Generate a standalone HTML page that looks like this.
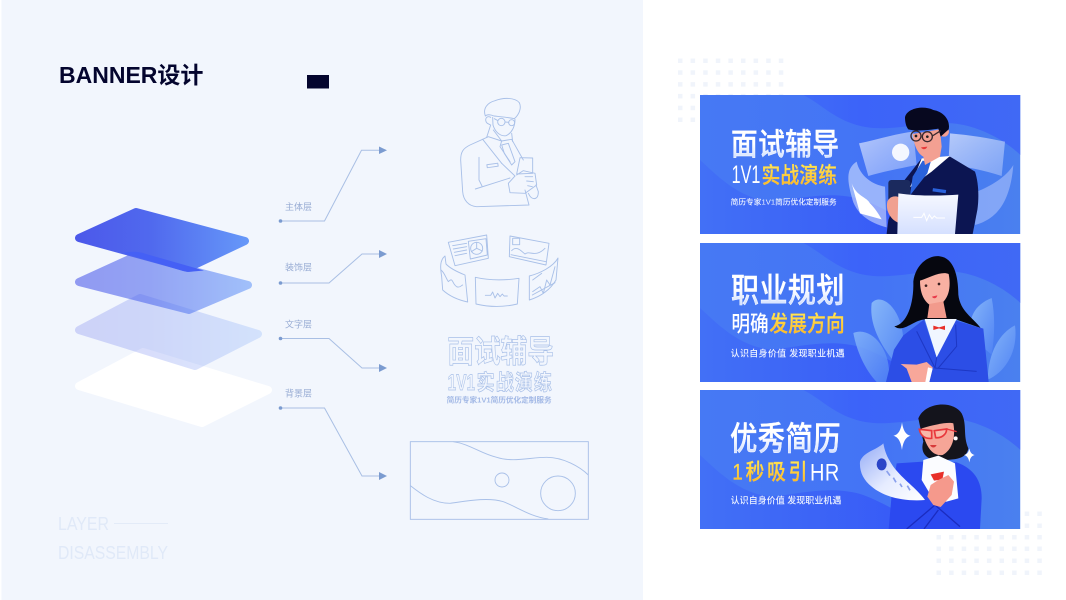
<!DOCTYPE html>
<html><head><meta charset="utf-8"><style>
html,body{margin:0;padding:0;background:#fff;width:1066px;height:600px;overflow:hidden}
svg{display:block}
text{font-family:"Liberation Sans","Noto Sans CJK SC",sans-serif}
</style></head><body>
<svg xmlns="http://www.w3.org/2000/svg" width="1066" height="600" viewBox="0 0 1066 600">
<defs>
<linearGradient id="l1" gradientUnits="userSpaceOnUse" x1="75" x2="265" y1="0" y2="0"><stop offset="0" stop-color="#4c58ea"/><stop offset=".4" stop-color="#5069ee"/><stop offset="1" stop-color="#6aa0fa"/></linearGradient>
<linearGradient id="bgA" x1="0" x2="1" y1="0" y2="0"><stop offset="0" stop-color="#4679f4"/><stop offset=".55" stop-color="#4474f5"/><stop offset="1" stop-color="#4a80ef"/></linearGradient>
<linearGradient id="top" x1="0" x2="1" y1="0" y2="0"><stop offset="0" stop-color="#4579f3"/><stop offset=".5" stop-color="#3c63f9"/><stop offset="1" stop-color="#4069f5"/></linearGradient>
<linearGradient id="bot" x1="0" x2="1" y1="0" y2="0"><stop offset="0" stop-color="#4270f6"/><stop offset="1" stop-color="#3556f7"/></linearGradient>
<linearGradient id="tw" x1="0" x2="0" y1="0" y2="1"><stop offset=".45" stop-color="#fff"/><stop offset="1" stop-color="#c4d6ff"/></linearGradient>
<linearGradient id="ty" x1="0" x2="0" y1="0" y2="1"><stop offset="0" stop-color="#ffe95a"/><stop offset="1" stop-color="#ffae1c"/></linearGradient>
<linearGradient id="pan" x1="0" x2="1" y1="0" y2="1"><stop offset="0" stop-color="#fff" stop-opacity=".6"/><stop offset="1" stop-color="#cfdcff" stop-opacity=".4"/></linearGradient>
<linearGradient id="front" x1="0" x2="0" y1="0" y2="1"><stop offset="0" stop-color="#f6f8ff"/><stop offset="1" stop-color="#d5e0ff"/></linearGradient>
<linearGradient id="paper" x1="0" x2="1" y1="0" y2="1"><stop offset="0" stop-color="#93aaf6"/><stop offset=".55" stop-color="#e6ecff"/><stop offset="1" stop-color="#fff"/></linearGradient>
<linearGradient id="leaf" x1="0" x2="1" y1="0" y2="1"><stop offset="0" stop-color="#86b6f9"/><stop offset="1" stop-color="#4f82f4"/></linearGradient>
<clipPath id="bc"><rect x="30" y="15" width="961" height="417"/></clipPath>
<g id="bannerbg">
<rect x="30" y="15" width="961" height="417" fill="url(#bgA)"/>
<path d="M30,15 L340,15 C390,40 430,85 500,105 C585,130 675,99 765,99 C855,99 945,150 991,195 L991,15Z" fill="url(#top)"/>
<path d="M30,210 C80,255 150,330 250,335 C330,325 430,300 520,330 C590,355 670,415 770,432 L30,432Z" fill="url(#bot)"/>
</g>
</defs>

<rect x="1.500" y="0" width="641.500" height="600" fill="#f2f6fd"/>

<!-- title -->
<text x="59" y="83" font-size="23" font-weight="700" fill="#04052e">BANNER设计</text>
<rect x="307" y="75" width="22" height="13.500" fill="#04052e"/>

<!-- layers -->
<g stroke-linejoin="round" stroke-width="8">
<path d="M79,386 L143,352 L268,390 L202,423Z" fill="#fff" stroke="#fff"/>
<g opacity=".22"><path d="M79,330 L140,298 L258,334 L195,366Z" fill="url(#l1)" stroke="url(#l1)"/></g>
<g opacity=".58"><path d="M79,282 L136,256 L248,285 L189,310Z" fill="url(#l1)" stroke="url(#l1)"/></g>
<path d="M79,238 L136,212 L245,241 L188,268Z" fill="url(#l1)" stroke="url(#l1)"/>
</g>
<path d="M123,253 Q136,250 146,254 L204,270.500 L193,271.500 Q188,272.500 183,271Z" fill="#4560f5"/>

<!-- labels and connectors -->
<g font-size="9" fill="#98acd4">
<text x="285" y="210">主体层</text>
<text x="285" y="270.500">装饰层</text>
<text x="285" y="327.500">文字层</text>
<text x="285" y="396.500">背景层</text>
</g>
<g fill="none" stroke="#a9bfe4" stroke-width="1">
<path d="M280,221 H324.500 L361.500,150.300 H380"/>
<path d="M280,283 H329 L362,254 H380"/>
<path d="M280,338.500 H329 L362,368 H380"/>
<path d="M280,408 H324.500 L362,476 H380"/>
</g>
<g fill="#7b9bd0">
<path d="M379,146.500 L387,150.300 L379,154Z"/>
<path d="M379,250 L387,254 L379,258Z"/>
<path d="M379,364 L387,368 L379,372Z"/>
<path d="M379,472 L387,476 L379,480Z"/>
<circle cx="280.500" cy="221" r="1.800"/><circle cx="280.500" cy="283" r="1.800"/><circle cx="280.500" cy="338.500" r="1.800"/><circle cx="280.500" cy="408" r="1.800"/>
</g>

<!-- english caption -->
<g fill="#e0e9f8" font-size="18">
<text x="58" y="530" textLength="51" lengthAdjust="spacingAndGlyphs">LAYER</text>
<text x="58" y="559" textLength="110" lengthAdjust="spacingAndGlyphs">DISASSEMBLY</text>
</g>
<path d="M114,523.500 H168" stroke="#e3ebf8" stroke-width="1"/>

<!-- line art figures -->
<g transform="translate(400,80) scale(.33333)" fill="none" stroke="#a9c0e8" stroke-width="2.800" stroke-linejoin="round" stroke-linecap="round">
<path d="M256,108 C248,85 262,68 285,62 C310,52 345,52 358,68 C366,85 356,105 343,116 C325,112 300,110 282,108 C270,103 262,102 256,108Z"/>
<path d="M272,112 C258,104 252,122 262,130 L270,134"/>
<path d="M278,112 L279,135 C285,155 300,170 318,167 C335,160 345,140 345,118"/>
<circle cx="304" cy="126" r="11"/><circle cx="335" cy="128" r="9"/><path d="M283,116 L294,122 M315,126 L326,127"/>
<path d="M272,135 L260,172 M280,150 L305,183 M335,160 L338,185"/>
<path d="M248,178 L210,195 C190,205 182,215 182,240 L188,335 C190,360 205,378 230,380 L387,375 L375,330"/>
<path d="M248,178 L265,170 L305,183 L300,200 L330,245 M248,178 L305,250"/>
<path d="M305,183 L335,178 L370,240"/>
<path d="M305,195 L325,190 L345,245 L335,255 L313,220Z"/>
<path d="M237,232 L237,300 L246,318 M226,327 L330,294"/>
<rect x="261" y="252" width="33" height="9" transform="rotate(-8 277 256)"/>
<path d="M360,233 L398,234 L398,280 L350,282Z"/>
<path d="M305,250 L345,288 L325,310 L330,338 L375,340 L410,315 L405,280 L370,272 L350,285"/>
<path d="M385,340 C395,362 415,362 415,335 L408,315"/>
<path d="M375,290 L398,290 M380,303 L400,305 M383,317 L397,320"/>
<!-- panels -->
<path d="M145,487 L260,465 L265,535 L165,557Z"/>
<path d="M205,484 L258,476 L262,525 L211,537Z"/>
<circle cx="230" cy="505" r="18"/><path d="M230,487 L230,505 L214,515 M230,505 L247,513"/>
<path d="M158,497 L200,490 M160,507 L200,500 M163,517 L200,510 M165,527 L200,520"/>
<path d="M330,468 L447,490 L438,555 L328,530Z"/>
<rect x="338" y="475" width="21" height="19"/>
<path d="M335,512 C350,495 365,515 375,522 C390,510 405,535 435,505 M333,524 L438,545"/>
<path d="M135,528 C120,540 120,560 125,590 L128,630 C150,650 175,660 203,666 L195,585 C170,575 150,565 138,552Z"/>
<path d="M123,570 C135,580 135,590 145,605 C160,590 155,610 170,620 C180,625 185,615 188,615"/>
<path d="M226,592 C270,602 310,602 357,595 L352,672 C310,682 270,682 228,672Z"/>
<path d="M256,646 H272 L278,636 L285,654 L293,640 L300,650 L307,642 L312,648 H322"/>
<path d="M388,588 C420,580 460,560 474,534 L468,600 C450,630 420,650 388,660Z"/>
<path d="M398,600 L425,580 M398,635 L420,620 L430,640 L440,600 L450,615 L465,560 M397,645 L465,608"/>
</g>

<!-- line art text -->
<g transform="translate(400,320) scale(.33333)">
<g fill="#f2f6fd" stroke="#a9c0e8" stroke-width="1.800" font-weight="700">
<text transform="translate(142,127) scale(1,1.170)" font-size="80" textLength="320" lengthAdjust="spacing">面试辅导</text>
<text transform="translate(143,210) scale(1,1.200)" font-size="56" textLength="82" lengthAdjust="spacingAndGlyphs">1V1</text>
<text transform="translate(230,210) scale(1,1.200)" font-size="54" textLength="226" lengthAdjust="spacing">实战演练</text>
</g>
<text x="140" y="248" font-size="23" font-weight="700" fill="#a3b9e6" textLength="315" lengthAdjust="spacing">简历专家1V1简历优化定制服务</text>
</g>

<!-- background outline -->
<g transform="translate(400,320) scale(.33333)" fill="none" stroke="#a9c0e8" stroke-width="2.800">
<rect x="31" y="365" width="534" height="233"/>
<path d="M160,365 C210,372 240,400 290,412 C340,428 390,412 440,412 C490,412 540,440 565,465"/>
<path d="M31,497 C60,520 100,550 150,550 C190,545 260,530 310,545 C350,560 390,590 445,597"/>
<circle cx="306" cy="480" r="21"/><circle cx="474" cy="520" r="52"/>
</g>

<!-- dot grids -->
<g fill="#f0f4fb">
<g id="d1">
<rect x="678" y="58.500" width="4.500" height="4.500"/><rect x="690.600" y="58.500" width="4.500" height="4.500"/><rect x="703.200" y="58.500" width="4.500" height="4.500"/><rect x="715.800" y="58.500" width="4.500" height="4.500"/><rect x="728.400" y="58.500" width="4.500" height="4.500"/><rect x="741" y="58.500" width="4.500" height="4.500"/><rect x="753.600" y="58.500" width="4.500" height="4.500"/><rect x="766.200" y="58.500" width="4.500" height="4.500"/><rect x="778.800" y="58.500" width="4.500" height="4.500"/>
</g>
<use href="#d1" y="11.800"/><use href="#d1" y="23.600"/><use href="#d1" y="35.400"/><use href="#d1" y="47.200"/><use href="#d1" y="59"/>
<use href="#d1" x="258.500" y="453"/><use href="#d1" x="258.500" y="465"/><use href="#d1" x="258.500" y="476.500"/><use href="#d1" x="258.500" y="488"/><use href="#d1" x="258.500" y="500"/><use href="#d1" x="258.500" y="512"/>
</g>

<!-- Banner 1 -->
<g transform="translate(690,90) scale(.33333)">
<g clip-path="url(#bc)">
<use href="#bannerbg"/>
<path d="M507,160 C560,150 620,130 670,125 L680,225 C630,235 580,245 535,258Z" fill="url(#pan)"/>
<path d="M780,130 C840,135 900,145 945,155 L935,258 C880,240 830,230 775,225Z" fill="url(#pan)"/>
<path d="M500,215 C470,235 470,265 485,320 C495,370 540,400 590,412 L585,290 C550,285 510,260 500,215Z" fill="#dfe8ff" fill-opacity=".55"/>
<path d="M485,280 C500,320 530,320 540,340 C555,355 565,370 575,388 L510,370Z" fill="#fff"/>
<path d="M970,225 C950,260 900,290 860,305 L855,405 C910,390 960,350 970,225Z" fill="#c9d8ff" fill-opacity=".45"/>
<circle cx="632" cy="187" r="26" fill="#fff" fill-opacity=".9"/>
<path d="M590,430 L595,390 L640,275 L695,205 L780,200 L855,245 C865,275 868,320 862,360 L848,432 L590,432Z" fill="#0c1552"/>
<path d="M695,205 L780,198 L725,245 L660,292Z" fill="#fff"/>
<path d="M698,212 L722,216 L712,250 L660,316 L668,260Z" fill="#2a62dc"/>
<path d="M668,132 L750,118 L755,170 L750,200 L705,225 L700,200 C682,190 672,165 668,132Z" fill="#f3a092"/>
<circle cx="762" cy="125" r="15" fill="#f3a092"/>
<path d="M645,82 C650,55 700,45 730,60 C760,65 782,90 776,118 L752,140 L745,116 C720,120 680,125 655,118 C648,110 645,95 645,82Z" fill="#07081f"/>
<circle cx="678" cy="138" r="15" fill="none" stroke="#3a2a30" stroke-width="4"/><circle cx="712" cy="140" r="15" fill="none" stroke="#3a2a30" stroke-width="4"/>
<path d="M727,138 L752,122" stroke="#3a2a30" stroke-width="4"/>
<circle cx="678" cy="138" r="4" fill="#222"/><circle cx="712" cy="140" r="4" fill="#222"/>
<path d="M693,172 L712,170 C708,180 698,180 693,172Z" fill="#e83a3a"/>
<rect x="728" y="297" width="40" height="10" fill="#2a62dc" transform="rotate(8 748 302)"/>
<rect x="595" y="270" width="66" height="80" rx="9" fill="#1b2a5e"/>
<path d="M592,335 C600,315 625,315 640,330 L630,400 C610,395 585,370 592,335Z" fill="#f0a090"/>
<path d="M625,310 C680,318 750,318 805,314 L795,432 L622,432Z" fill="url(#front)"/>
<path d="M670,382 H695 L702,370 L710,392 L718,374 L726,386 L733,378 L740,384 H765" fill="none" stroke="#fff" stroke-width="3"/>
</g>
<g font-weight="500">
<text transform="translate(123,195) scale(1,1.150)" font-size="80" fill="url(#tw)" stroke="#fff" stroke-width="1" textLength="324" lengthAdjust="spacing">面试辅导</text>
<text transform="translate(125,279) scale(1,1.150)" font-size="66" fill="#fff" textLength="86" lengthAdjust="spacingAndGlyphs">1V1</text>
<text transform="translate(215,279) scale(1,1.200)" font-size="56" fill="url(#ty)" stroke="#ffd23a" stroke-width=".8" textLength="226" lengthAdjust="spacing">实战演练</text>
</g>
<text x="122" y="344" font-size="23" font-weight="500" fill="#eef3ff" textLength="318" lengthAdjust="spacing">简历专家1V1简历优化定制服务</text>
</g>

<!-- Banner 2 -->
<g transform="translate(690,238) scale(.33333)">
<g clip-path="url(#bc)">
<use href="#bannerbg"/>
<path d="M545,195 C570,165 625,200 638,285 L650,415 C590,350 535,275 545,195Z" fill="url(#leaf)"/>
<path d="M490,285 C545,262 610,340 595,432 L560,432 C525,395 500,340 490,285Z" fill="url(#leaf)" fill-opacity=".85"/>
<path d="M905,180 C855,200 830,240 845,300 L905,350 C915,290 915,230 905,180Z" fill="url(#leaf)"/>
<path d="M975,262 C930,285 895,340 893,425 C950,400 985,335 975,262Z" fill="url(#leaf)"/>
<path d="M670,130 C678,75 720,50 750,55 C790,60 805,110 805,170 C810,220 850,240 872,270 L800,245 L700,245 C665,250 640,285 613,265 C650,258 672,200 670,130Z" fill="#06070f"/>
<path d="M690,128 C720,118 755,98 776,108 C786,160 770,195 735,207 C705,200 690,170 690,128Z" fill="#f8b0a2"/>
<path d="M718,198 L760,190 L770,240 L712,240Z" fill="#f29a8c"/>
<circle cx="708" cy="143" r="4" fill="#3a2020"/><circle cx="747" cy="138" r="4" fill="#3a2020"/>
<path d="M726,176 L742,172 C740,182 730,184 726,176Z" fill="#e83a4a"/>
<path d="M640,292 L702,245 L740,358 L788,245 L880,272 L896,432 L588,432 L612,335Z" fill="#2c4ee6"/>
<path d="M704,243 L800,243 L740,358Z" fill="#f0f6ff"/>
<path d="M730,263 L747,268 L765,263 L765,276 L747,271 L730,276Z" fill="#e8302a"/>
<path d="M740,358 L735,390 L860,400 M680,280 L705,330 L735,390 M797,260 L800,325 L745,390" fill="none" stroke="#1d37c4" stroke-width="3"/>
<path d="M632,378 L680,380 L710,372 L728,388 L718,432 L665,432 L650,392Z" fill="#f8a79a"/>
<path d="M714,388 L728,392 L718,432 L706,432Z" fill="#fff"/>
</g>
<g font-weight="500">
<text transform="translate(123,192) scale(1,1.200)" font-size="84" fill="url(#tw)" stroke="#fff" stroke-width="1" textLength="340" lengthAdjust="spacing">职业规划</text>
<text transform="translate(124,281) scale(1,1.200)" font-size="56" fill="#fff" textLength="112" lengthAdjust="spacing">明确</text>
<text transform="translate(238,281) scale(1,1.200)" font-size="56" fill="url(#ty)" stroke="#ffd23a" stroke-width=".8" textLength="226" lengthAdjust="spacing">发展方向</text>
</g>
<text x="122" y="355" font-size="27" font-weight="500" fill="#eef3ff" textLength="342" lengthAdjust="spacing">认识自身价值 发现职业机遇</text>
</g>

<!-- Banner 3 -->
<g transform="translate(690,385) scale(.33333)">
<g clip-path="url(#bc)">
<use href="#bannerbg"/>
<path d="M685,100 C705,50 790,45 815,85 C832,120 818,150 835,190 C830,225 785,225 740,225 C700,222 692,195 700,170Z" fill="#14141c"/>
<path d="M695,130 C735,118 775,110 790,115 C798,160 785,195 758,210 C725,215 705,180 695,130Z" fill="#f6a597"/>
<circle cx="797" cy="160" r="6" fill="#fff"/>
<path d="M720,180 L740,180 C735,190 725,190 720,180Z" fill="#d73a3a"/>
<path d="M688,133 L725,137 L725,160 C708,162 692,155 688,133Z M733,137 L770,132 C770,148 755,160 737,158Z" fill="#f8b8aa" stroke="#e8383c" stroke-width="5"/>
<path d="M770,132 L800,140" stroke="#e8383c" stroke-width="4"/>
<path d="M620,235 L700,230 L800,232 C850,250 875,285 875,340 L870,432 L596,432 L605,330Z" fill="#2b49f0"/>
<path d="M700,225 L745,212 L795,235 L805,340 L770,350 L735,352 L695,285Z" fill="#fbfcff"/>
<path d="M722,268 L762,260 L757,284 L732,287Z" fill="#e8302a"/>
<path d="M650,432 L735,360 L810,425 M702,432 L745,375" fill="none" stroke="#1b2cc0" stroke-width="4"/>
<path d="M510,230 C520,200 560,195 580,175 C585,200 590,215 610,245 C640,285 680,310 705,345 C640,350 580,335 545,305 C520,285 508,260 510,230Z" fill="url(#paper)"/>
<ellipse cx="575" cy="238" rx="15" ry="18" fill="#2a44c8"/>
<path d="M590,258 L600,272 M610,278 L618,292 M630,296 L636,306 M652,302 L660,316" stroke="#8aa0ec" stroke-width="5"/>
<path d="M712,335 L722,300 L745,285 L775,270 L792,290 L785,330 L752,366 L730,360Z" fill="#f5998c"/>
<path d="M636,112 C640,140 650,150 662,152 C650,156 640,165 636,195 C632,165 622,156 610,152 C622,150 632,140 636,112Z" fill="#fff"/>
<path d="M838,190 C840,202 846,208 854,210 C846,212 840,218 838,232 C836,218 830,212 822,210 C830,208 836,202 838,190Z" fill="#fff"/>
</g>
<g font-weight="500">
<text transform="translate(120,195) scale(1,1.200)" font-size="82" fill="url(#tw)" stroke="#fff" stroke-width="1" textLength="332" lengthAdjust="spacing">优秀简历</text>
<text transform="translate(127,283) scale(1,1.200)" font-size="56" fill="url(#ty)" stroke="#ffd23a" stroke-width=".8" textLength="225" lengthAdjust="spacing">1秒吸引</text>
<text transform="translate(360,286) scale(1,1.200)" font-size="60" fill="#fff" textLength="88" lengthAdjust="spacing">HR</text>
</g>
<text x="122" y="355" font-size="27" font-weight="500" fill="#eef3ff" textLength="332" lengthAdjust="spacing">认识自身价值 发现职业机遇</text>
</g>
</svg>
</body></html>
